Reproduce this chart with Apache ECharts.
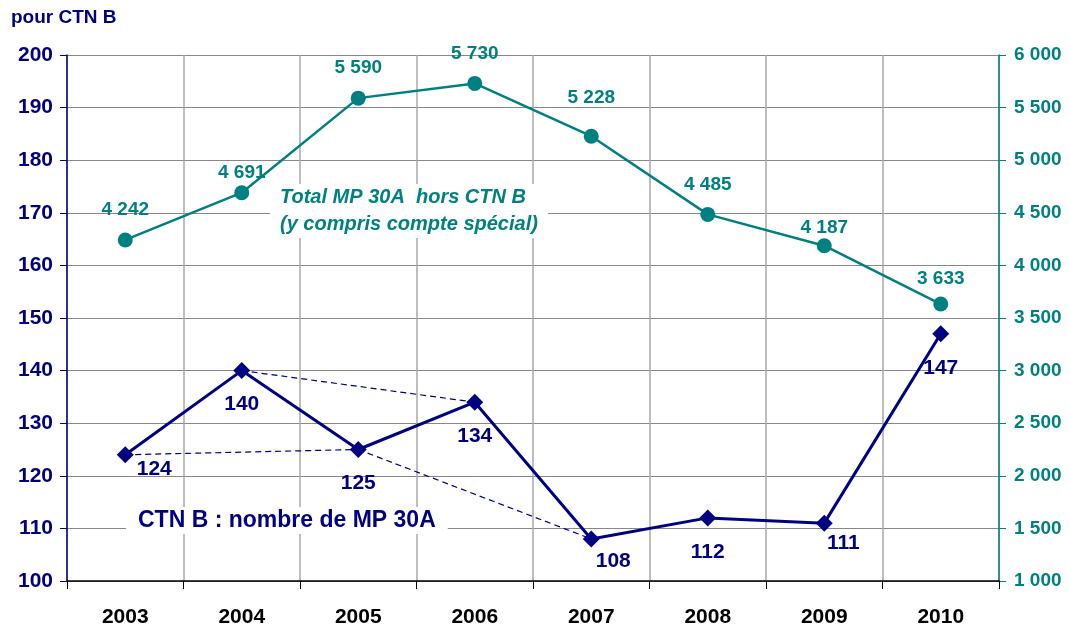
<!DOCTYPE html>
<html>
<head>
<meta charset="utf-8">
<script src="https://cdn.jsdelivr.net/npm/echarts@6/dist/echarts.min.js"></script>
<style>
  html, body { margin: 0; padding: 0; background: #fff; }
  #main { width: 1069px; height: 628px; }
</style>
</head>
<body>
<div id="main"></div>
<script>
const years = ["2003", "2004", "2005", "2006", "2007", "2008", "2009", "2010"];
const ctnB = [124, 140, 125, 134, 108, 112, 111, 147];
const totalHorsCtnB = [4242, 4691, 5590, 5730, 5228, 4485, 4187, 3633];
// les pointillés relient des points à deux ans d'écart
const dashedPairs = [[0, 2], [1, 3], [2, 4]];

const navy = "#000080";
const teal = "#008080";
const font = "Liberation Sans";

// décalage des étiquettes (comme dans l'original)
const navyNudge = [[29, -20], [0, 0], [0, 0], [0, 0], [22, -12], [0, 0], [19, -14], [0, 0]];
const tealNudge = [[0, 0], [0, 10], [0, 0], [0, 0], [0, -8], [0, 0], [0, 12], [0, 5]];

function spaced(v) {
  return String(v).replace(/\B(?=(\d{3})+(?!\d))/g, " ");
}

const myChart = echarts.init(document.getElementById("main"));

const dashedSeries = dashedPairs.map(function (p) {
  return {
    type: "line",
    yAxisIndex: 0,
    symbol: "none",
    connectNulls: true,
    silent: true,
    lineStyle: { color: navy, width: 1.2, type: [6, 4] },
    data: ctnB.map(function (v, i) { return (i === p[0] || i === p[1]) ? v : null; }),
    z: 1
  };
});

const option = {
  backgroundColor: "#fff",
  animation: false,
  grid: { left: 67, right: 70, top: 55, bottom: 47 },
  xAxis: {
    type: "category",
    data: years,
    boundaryGap: true,
    axisLine: { lineStyle: { color: "#000", width: 1.5 } },
    axisTick: { show: true, length: 8, lineStyle: { color: "#000" } },
    axisLabel: { color: "#000", fontFamily: font, fontWeight: "bold", fontSize: 21, margin: 26 },
    splitLine: { show: true, interval: 0, lineStyle: { color: "#a8a8a8", width: 1.5 } }
  },
  yAxis: [
    {
      type: "value",
      min: 100, max: 200, interval: 10,
      axisLine: { show: true, lineStyle: { color: navy, width: 1.5 } },
      axisTick: { show: true, length: 7, lineStyle: { color: navy } },
      axisLabel: { color: navy, fontFamily: font, fontWeight: "bold", fontSize: 21, margin: 14 },
      splitLine: { show: true, lineStyle: { color: "#888", width: 1.2 } }
    },
    {
      type: "value",
      min: 1000, max: 6000, interval: 500,
      axisLine: { show: true, lineStyle: { color: teal, width: 1.5 } },
      axisTick: { show: true, length: 7, lineStyle: { color: teal } },
      axisLabel: { color: teal, fontFamily: font, fontWeight: "bold", fontSize: 19, margin: 15, formatter: spaced },
      splitLine: { show: false }
    }
  ],
  series: dashedSeries.concat([
    {
      name: "Total MP 30A hors CTN B",
      type: "line",
      yAxisIndex: 1,
      symbol: "circle",
      symbolSize: 15,
      lineStyle: { color: teal, width: 2.5 },
      itemStyle: { color: teal },
      label: {
        show: true, position: "top", distance: 13,
        color: teal, fontFamily: font, fontWeight: "bold", fontSize: 19,
        formatter: function (p) { return spaced(p.value); }
      },
      data: totalHorsCtnB.map(function (v, i) {
        return { value: v, label: { offset: tealNudge[i] } };
      }),
      z: 3
    },
    {
      name: "CTN B : nombre de MP 30A",
      type: "line",
      yAxisIndex: 0,
      symbol: "diamond",
      symbolSize: 17,
      lineStyle: { color: navy, width: 3 },
      itemStyle: { color: navy },
      label: {
        show: true, position: "bottom", distance: 15,
        color: navy, fontFamily: font, fontWeight: "bold", fontSize: 21
      },
      data: ctnB.map(function (v, i) {
        return { value: v, label: { offset: navyNudge[i] } };
      }),
      z: 4
    }
  ]),
  graphic: [
    {
      type: "text", left: 11, top: 8, z: 10,
      style: { text: "pour CTN B", fill: navy, font: "bold 19px 'Liberation Sans'" }
    },
    {
      type: "text", left: 270, top: 184, z: 10,
      style: {
        text: "Total MP 30A  hors CTN B\n(y compris compte spécial)",
        fill: teal, align: "center",
        font: "italic bold 20px 'Liberation Sans'", lineHeight: 27,
        backgroundColor: "#fff", padding: [0, 10]
      }
    },
    {
      type: "text", left: 126, top: 507, z: 10,
      style: {
        text: "CTN B : nombre de MP 30A",
        fill: navy, font: "bold 23px 'Liberation Sans'",
        backgroundColor: "#fff", padding: [2, 12]
      }
    }
  ]
};

myChart.setOption(option);
</script>
</body>
</html>
